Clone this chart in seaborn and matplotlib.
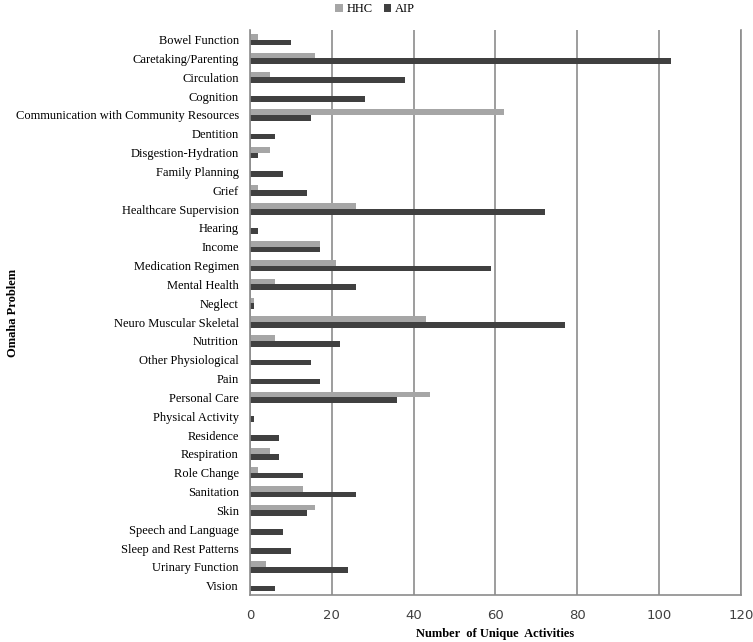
import pandas as pd
import numpy as np
import matplotlib.pyplot as plt
import seaborn as sns

problems = ['Bowel Function', 'Caretaking/Parenting', 'Circulation', 'Cognition',
            'Communication with Community Resources', 'Dentition', 'Disgestion-Hydration',
            'Family Planning', 'Grief', 'Healthcare Supervision', 'Hearing', 'Income',
            'Medication Regimen', 'Mental Health', 'Neglect', 'Neuro Muscular Skeletal',
            'Nutrition', 'Other Physiological', 'Pain', 'Personal Care', 'Physical Activity',
            'Residence', 'Respiration', 'Role Change', 'Sanitation', 'Skin',
            'Speech and Language', 'Sleep and Rest Patterns', 'Urinary Function', 'Vision']
hhc = [2, 16, 5, 0, 62, 0, 5, 0, 2, 26, 0, 17, 21, 6, 1, 43, 6, 0, 0, 44, 0, 0, 5, 2, 13, 16, 0, 0, 4, 0]
aip = [10, 103, 38, 28, 15, 6, 2, 8, 14, 72, 2, 17, 59, 26, 1, 77, 22, 15, 17, 36, 1, 7, 7, 13, 26, 14, 8, 10, 24, 6]
x_ticks = [0, 20, 40, 60, 80, 100, 120]

df = pd.DataFrame({'problem': problems * 2,
                   'count': hhc + aip,
                   'group': ['HHC'] * len(problems) + ['AIP'] * len(problems)})

fig = plt.figure(figsize=(7.53, 6.42), dpi=100)
ax = fig.add_axes([0.332, 0.073, 0.652, 0.88])

sns.barplot(data=df, x='count', y='problem', hue='group', orient='h',
            palette={'HHC': '#a6a6a6', 'AIP': '#404040'}, width=0.6,
            saturation=1, ax=ax, zorder=2)

ax.set_xlim(0, 120)
ax.set_xticks(x_ticks)
ax.set_ylim(len(problems) - 0.5, -0.5)
ax.xaxis.grid(True, color='#8c8c8c', linewidth=1.2, zorder=0)
ax.set_axisbelow(True)
ax.tick_params(axis='y', length=0, pad=8)
ax.tick_params(axis='x', length=0, pad=10, labelsize=9.5, labelcolor='#404040')
for lab in ax.get_yticklabels():
    lab.set_family('Liberation Serif')
    lab.set_fontsize(9)
for lab in ax.get_xticklabels():
    lab.set_family('DejaVu Sans')

for side in ['left', 'bottom', 'right']:
    ax.spines[side].set_color('#8c8c8c')
    ax.spines[side].set_linewidth(1.2)
ax.spines['top'].set_visible(False)

ax.set_xlabel('Number  of Unique  Activities', family='Liberation Serif',
              fontweight='bold', fontsize=9, labelpad=4)
ax.set_ylabel('Omaha Problem', family='Liberation Serif', fontweight='bold', fontsize=9)
ax.yaxis.set_label_coords(-0.47, 0.5)

ax.legend(loc='upper center', bbox_to_anchor=(0.255, 1.068), ncol=2, frameon=False,
          prop={'family': 'Liberation Serif', 'size': 9}, handlelength=0.6,
          handleheight=0.6, handletextpad=0.3, columnspacing=0.9)

fig.savefig('out.png', dpi=100)
